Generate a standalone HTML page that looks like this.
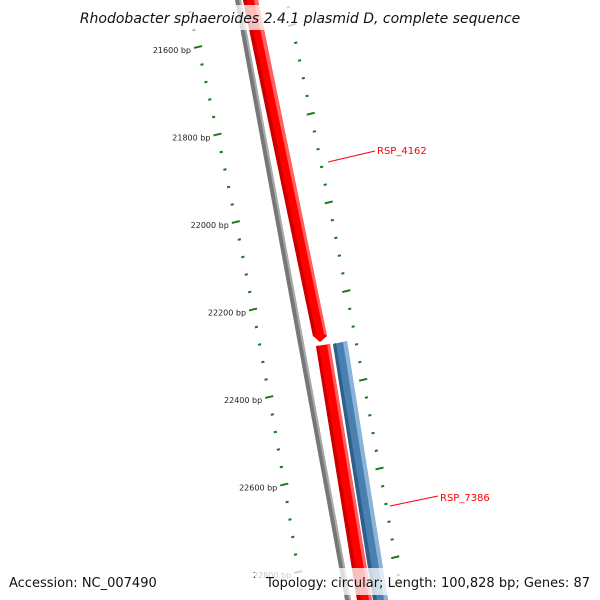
<!DOCTYPE html>
<html><head><meta charset="utf-8"><style>
body{margin:0;background:#fff;}
svg{display:block;font-family:"DejaVu Sans","Liberation Sans",sans-serif;}
</style></head><body>
<svg id="map" width="600" height="600" viewBox="0 0 600 600" xmlns="http://www.w3.org/2000/svg">
<g id="ticks"></g>
<g>
<polygon points="235,0 241,0 351,600 345,600" fill="#777"/>
<polygon points="239,0 241,0 351,600 349,600" fill="#aaa"/>
</g>
<g>
<polygon points="243,0 258,0 327,336 320,342 313,336" fill="#ff0000"/>
<polygon points="243,0 247,0 316,334 313,336" fill="#cc0000"/>
<polygon points="254,0 258,0 327,336 324,334" fill="#ff6060"/>
</g>
<g>
<polygon points="316,346 330,344 372,600 357,600" fill="#ff0000"/>
<polygon points="316,346 319,346 361,600 357,600" fill="#cc0000"/>
<polygon points="327,344 330,344 372,600 369,600" fill="#ff6060"/>
</g>
<g>
<polygon points="333,344 347,341 388,600 373,600" fill="#4a80b0"/>
<polygon points="333,344 336,343 377,600 373,600" fill="#2f5f8a"/>
<polygon points="343,342 347,341 388,600 384,600" fill="#8ab4d8"/>
</g>
<line x1="328" y1="162" x2="375" y2="151" stroke="#ff0000" stroke-width="1"/>
<text x="377" y="154" font-size="10" fill="#ff0000">RSP_4162</text>
<line x1="390" y1="506" x2="438" y2="496" stroke="#ff0000" stroke-width="1"/>
<text x="440" y="501" font-size="10" fill="#ff0000">RSP_7386</text>
<rect x="80" y="5" width="440" height="25" fill="#fff" opacity="0.75"/>
<text x="300" y="23" font-size="14" font-style="italic" text-anchor="middle" fill="#111">Rhodobacter sphaeroides 2.4.1 plasmid D, complete sequence</text>
<rect x="255" y="568" width="340" height="27" fill="#fff" opacity="0.75"/>
<text x="9" y="587" font-size="13" fill="#111">Accession: NC_007490</text>
<text x="590" y="587" font-size="13" text-anchor="end" fill="#111">Topology: circular; Length: 100,828 bp; Genes: 87</text>
</svg>
<script>
const majorBp = [21600, 21800, 22000, 22200, 22400, 22600, 22800];
const tickStepBp = 40;
const tickStartBp = 21520;
const tickEndBp = 22840;
const NS = "http://www.w3.org/2000/svg";
const g = document.getElementById("ticks");
function leftPos(bp){const t=(bp-21600)/200;return [198+20*t-0.55*t*t, 47+87.5*t];}
function rightPos(bp){const t=(bp-21600)/200;return [292+19*t-0.3*t*t, 25+88.7*t];}
for(let bp=tickStartBp; bp<=tickEndBp; bp+=tickStepBp){
  const major = majorBp.includes(bp);
  const len = major?8:3;
  [leftPos(bp), rightPos(bp)].forEach((p,i)=>{
    const l=document.createElementNS(NS,"line");
    
    
    const dx = i===0 ? len/2 : len/2;
    l.setAttribute("x1",p[0]-dx);l.setAttribute("y1",p[1]+len*0.12);
    l.setAttribute("x2",p[0]+dx);l.setAttribute("y2",p[1]-len*0.12);
    l.setAttribute("stroke","#1a7a1a");l.setAttribute("stroke-width","2");
    g.appendChild(l);
  });
  if(major){
    const p=leftPos(bp);
    const t=document.createElementNS(NS,"text");
    
    
    t.setAttribute("x",p[0]-7);t.setAttribute("y",p[1]+6);
    t.setAttribute("font-size","8");t.setAttribute("text-anchor","end");t.setAttribute("fill","#222");
    t.textContent=bp+" bp";
    g.appendChild(t);
  }
}
</script>
</body></html>
